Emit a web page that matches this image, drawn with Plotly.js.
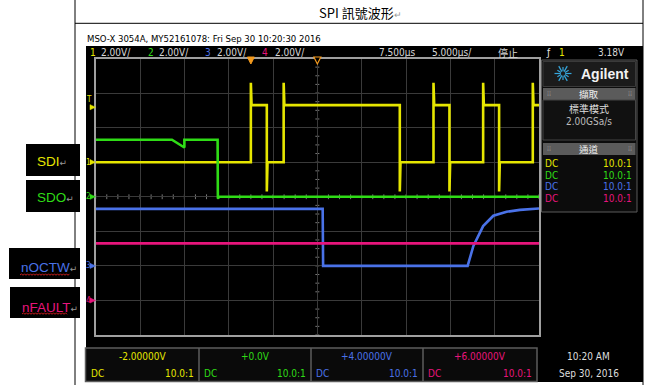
<!DOCTYPE html>
<html><head><meta charset="utf-8">
<script src="https://cdn.plot.ly/plotly-3.0.1.min.js"></script>
<style>html,body{margin:0;padding:0;background:#fff;}#chart{width:645px;height:385px;}</style>
</head><body><div id="chart"></div>
<script>
// ---------------- data ----------------
const channelNames = ['SDI', 'SDO', 'nOCTW', 'nFAULT'];
const channelColors = ['#e6e600', '#2fdc16', '#4a72e8', '#e8157c'];
const voltsPerDiv = [2, 2, 2, 2];
const channelOffsets = [-2.0, 0.0, 4.0, 6.0];
const offsetLabels = ['-2.00000V', '+0.0V', '+4.00000V', '+6.00000V'];
const probeLabels = ['10.0:1', '10.0:1', '10.0:1', '10.0:1'];
const timePerDiv = 5;      // µs / div
const timeDelay = 7.5;     // µs
const triggerLevel = 3.18; // V

// SDI (ch1)
const sdiTime = [-17.5, 0.0, 0.0, 0.08, 1.8, 1.8, 1.88, 3.7, 3.7, 3.78, 16.8, 16.8, 16.88, 20.6, 20.6, 20.68, 22.4, 22.4, 22.48, 26.2, 26.2, 26.28, 28.0, 28.0, 28.08, 31.8, 31.8, 31.88, 32.5];
const sdiVolt = [0.0, 0.0, 4.6, 3.3, 3.3, -1.7, 0.0, 0.0, 4.6, 3.3, 3.3, -1.7, 0.0, 0.0, 4.6, 3.3, 3.3, -1.7, 0.0, 0.0, 4.6, 3.3, 3.3, -1.7, 0.0, 0.0, 4.6, 3.3, 3.3];
// SDO (ch2)
const sdoTime = [-17.5, -8.9, -7.5, -7.5, -3.75, -3.72, -3.55, 32.5];
const sdoVolt = [3.3, 3.3, 2.85, 3.3, 3.3, -0.1, 0.0, 0.0];
// nOCTW (ch3)
const octwTime = [-17.5, 8.1, 8.15, 24.45, 25.1, 26.2, 27.35, 28.85, 30.35, 32.25, 32.5];
const octwVolt = [3.3, 3.3, 0.0, 0.0, 1.15, 2.3, 2.9, 3.13, 3.24, 3.32, 3.32];
// nFAULT (ch4)
const faultTime = [-17.5, 32.5];
const faultVolt = [3.3, 3.3];

// ---------------- page geometry ----------------
const W = 645, H = 385;
const X = p => p / W;
const Y = p => 1 - p / H;
const gL = 95.7, gR = 539, gT = 58.5, gB = 335;
const divPxY = (gB - gT) / 8, divPxX = (gR - gL) / 10;
const NARROW = "'Liberation Sans Narrow','DejaVu Sans Condensed','Liberation Sans','Noto Sans CJK TC',sans-serif";
const CJK = "'Noto Sans CJK TC','Liberation Sans',sans-serif";

const shapes = [], annotations = [];
function rect(x0, y0, x1, y1, fill, line, lw, layer) {
  shapes.push({type: 'rect', xref: 'paper', yref: 'paper', x0: X(x0), x1: X(x1), y0: Y(y1), y1: Y(y0),
    fillcolor: fill, line: {color: line || 'rgba(0,0,0,0)', width: lw || 0}, layer: layer || 'above'});
}
function seg(x0, y0, x1, y1, color, w, layer) {
  shapes.push({type: 'line', xref: 'paper', yref: 'paper', x0: X(x0), x1: X(x1), y0: Y(y0), y1: Y(y1),
    line: {color: color, width: w || 1}, layer: layer || 'above'});
}
function txt(s, x, y, size, color, anchor, family) {
  annotations.push({xref: 'paper', yref: 'paper', x: X(x), y: Y(y), text: s, showarrow: false,
    xanchor: anchor || 'left', yanchor: 'middle', borderpad: 0,
    font: {family: family || NARROW, size: size, color: color}});
}

// Word table lines
seg(75, 0, 75, 385, '#000', 1);
seg(643, 0, 643, 385, '#000', 1);
seg(75, 23.3, 643, 23.3, '#000', 1);
txt('SPI 訊號波形<span style="color:#999;font-size:9px">↵</span>', 361, 12, 13, '#000', 'center', CJK);

// scope screen background
rect(86, 46, 643, 382, '#000', null, 0, 'below');
txt('MSO-X 3054A, MY52161078: Fri Sep 30 10:20:30 2016', 86, 38, 9.5, '#000', 'left');

// status bar
const sbY = 52;
const chX = [89, 147, 204, 261], vdX = [100, 158, 216, 274];
for (let i = 0; i < 4; i++) {
  txt(String(i + 1), chX[i], sbY, 10, channelColors[i]);
  txt(voltsPerDiv[i].toFixed(2) + 'V/', vdX[i], sbY, 10, '#d8d8d8');
}
txt(timeDelay.toFixed(3) + 'µs', 378, sbY, 10, '#d8d8d8');
txt(timePerDiv.toFixed(3) + 'µs/', 431, sbY, 10, '#d8d8d8');
txt('停止', 497, sbY, 10, '#d8d8d8', 'left', CJK);
txt('ƒ', 545, sbY, 10, '#e8e8e8');
txt('1', 558, sbY, 10, channelColors[0]);
txt(triggerLevel.toFixed(2) + 'V', 626, sbY, 10, '#d8d8d8', 'right');

// center-line minor ticks
for (let k = -20; k <= 20; k++) {
  const t = timeDelay + k * timePerDiv / 4;
  shapes.push({type: 'line', xref: 'x', yref: 'y', x0: t, x1: t, y0: -0.07, y1: 0.07, line: {color: '#777', width: 1}, layer: 'below'});
}
for (let k = -16; k <= 16; k++) {
  const d = k / 4, dx = 2 / divPxX * timePerDiv;
  shapes.push({type: 'line', xref: 'x', yref: 'y', x0: timeDelay - dx, x1: timeDelay + dx, y0: d, y1: d, line: {color: '#777', width: 1}, layer: 'below'});
}

// trigger markers on top
{
  const w = 3.5 / divPxX * timePerDiv;
  shapes.push({type: 'path', xref: 'x', yref: 'paper', path: `M ${-w},${Y(57)} L ${w},${Y(57)} L 0,${Y(64)} Z`, fillcolor: '#f39a1e', line: {color: '#f39a1e', width: 1}});
  shapes.push({type: 'path', xref: 'x', yref: 'paper', path: `M ${timeDelay - w},${Y(57)} L ${timeDelay + w},${Y(57)} L ${timeDelay},${Y(64)} Z`, fillcolor: '#000', line: {color: '#f39a1e', width: 1.2}});
}

// channel ground markers & trigger level marker
for (let i = 0; i < 4; i++) {
  const ya = 'y' + (i + 2);
  const h = 2.6 / divPxY * voltsPerDiv[i];
  shapes.push({type: 'path', xref: 'paper', yref: ya, path: `M ${X(90)},${h} L ${X(95.5)},0 L ${X(90)},${-h} Z`, fillcolor: channelColors[i], line: {color: channelColors[i], width: 0.5}});
  annotations.push({xref: 'paper', yref: ya, x: X(88.5), y: 0, text: String(i + 1), showarrow: false, xanchor: 'center', yanchor: 'middle', font: {family: NARROW, size: 8, color: channelColors[i]}});
}
{
  const h = 2.6 / divPxY * voltsPerDiv[0];
  shapes.push({type: 'path', xref: 'paper', yref: 'y2', path: `M ${X(90)},${triggerLevel + h} L ${X(95.5)},${triggerLevel} L ${X(90)},${triggerLevel - h} Z`, fillcolor: channelColors[0], line: {color: channelColors[0], width: 0.5}});
  txt('T', 89, 100, 8, channelColors[0], 'center');
}

// left label boxes (Word document)
const labelBoxes = [[26, 144, 80, 176], [26, 180, 80, 212], [9, 248, 80, 279], [10, 287, 80, 318]];
const labelTextX = [36, 36, 20, 21], labelTextY = [162, 197.5, 267.5, 307];
for (let i = 0; i < 4; i++) {
  const b = labelBoxes[i];
  rect(b[0], b[1], b[2], b[3], '#000', null, 0);
  txt(channelNames[i] + '<span style="color:#999;font-size:9px">↵</span>', labelTextX[i], labelTextY[i], 13.5,
      channelColors[i], 'left', "'Liberation Sans','DejaVu Sans',sans-serif");
}
// red spell-check squiggles
function squiggle(x0, x1, y) {
  let p = `M ${X(x0)},${Y(y)}`, up = true;
  for (let x = x0 + 1.5; x <= x1; x += 1.5) { p += ` L ${X(x)},${Y(up ? y - 1.2 : y + 0.3)}`; up = !up; }
  shapes.push({type: 'path', xref: 'paper', yref: 'paper', path: p, line: {color: '#e02020', width: 0.9}});
}
squiggle(20, 70, 275);
squiggle(22, 68, 314);

// right panel
rect(541.5, 60, 637, 212, '#0c0c0c', '#5a5a5a', 1);
rect(543, 61.5, 635.5, 86.5, '#1b1b1b', '#3a3a3a', 1);
for (let k = 0; k < 12; k++) {
  const a = k * Math.PI / 6, r0 = 2.2, r1 = (k % 2 ? 6.5 : 8.5);
  seg(563 + r0 * Math.cos(a), 73.5 + r0 * Math.sin(a), 563 + r1 * Math.cos(a), 73.5 + r1 * Math.sin(a), '#35a6dc', 1.2);
}
txt('<b>Agilent</b>', 580, 73.5, 14, '#f2f2f2', 'left', "'Liberation Sans','DejaVu Sans',sans-serif");
rect(543, 88, 635.5, 100, '#5b5b5b', null, 0);
txt('擷取', 589, 94, 9.5, '#eeeeee', 'center', CJK);
txt('⁞⁞', 546, 94, 7, '#999', 'left'); txt('⁞⁞', 633, 94, 7, '#999', 'right');
rect(543, 100, 635.5, 140, '#111', '#444', 1);
txt('標準模式', 589, 108.5, 10, '#dddddd', 'center', CJK);
txt('2.00GSa/s', 589, 121.5, 10, '#bbbbbb', 'center');
rect(543, 143, 635.5, 155, '#5b5b5b', null, 0);
txt('通道', 589, 149, 9.5, '#eeeeee', 'center', CJK);
txt('⁞⁞', 546, 149, 7, '#999', 'left'); txt('⁞⁞', 633, 149, 7, '#999', 'right');
const rowY = [163.5, 175.2, 186.8, 198.4];
for (let i = 0; i < 4; i++) {
  txt('DC', 544, rowY[i], 10, channelColors[i], 'left');
  txt(probeLabels[i], 633, rowY[i], 10, channelColors[i], 'right');
}

// bottom boxes
rect(85.5, 348, 537, 381.5, '#0a0a0a', '#5c5c5c', 1.5);
const cellEdges = [85.5, 199, 311, 423, 537];
for (let i = 0; i < 4; i++) {
  if (i > 0) seg(cellEdges[i], 348, cellEdges[i], 381.5, '#5c5c5c', 1.5);
  const c = (cellEdges[i] + cellEdges[i + 1]) / 2;
  txt(offsetLabels[i], c, 356, 10, channelColors[i], 'center');
  txt('DC', cellEdges[i] + 4, 373.5, 10, channelColors[i], 'left');
  txt(probeLabels[i], cellEdges[i + 1] - 4, 373.5, 10, channelColors[i], 'right');
}
txt('10:20 AM', 588, 356, 10, '#dddddd', 'center');
txt('Sep 30, 2016', 589, 373, 10, '#dddddd', 'center');

// ---------------- traces ----------------
const times = [sdiTime, sdoTime, octwTime, faultTime];
const volts = [sdiVolt, sdoVolt, octwVolt, faultVolt];
const traces = [];
for (let i = 0; i < 4; i++) {
  traces.push({x: times[i], y: volts[i], yaxis: 'y' + (i + 2), type: 'scatter', mode: 'lines', name: channelNames[i],
    line: {color: channelColors[i], width: 2.6}, hoverinfo: 'skip'});
}

const xRange = [timeDelay - 5 * timePerDiv, timeDelay + 5 * timePerDiv];
const layout = {
  width: W, height: H, margin: {l: 0, r: 0, t: 0, b: 0, pad: 0},
  paper_bgcolor: '#ffffff', plot_bgcolor: '#000000', showlegend: false,
  xaxis: {domain: [X(gL), X(gR)], range: xRange, tick0: xRange[0], dtick: timePerDiv, showgrid: true, gridcolor: '#3a3a3a', gridwidth: 1,
    showline: true, mirror: true, linecolor: '#a0a0a0', linewidth: 1.5, ticks: '', showticklabels: false, zeroline: false, fixedrange: true},
  yaxis: {domain: [Y(gB), Y(gT)], range: [-4, 4], dtick: 1, showgrid: true, gridcolor: '#3a3a3a', gridwidth: 1,
    showline: true, mirror: true, linecolor: '#a0a0a0', linewidth: 1.5, ticks: '', showticklabels: false, zeroline: false, fixedrange: true},
  shapes: shapes, annotations: annotations
};
for (let i = 0; i < 4; i++) {
  layout['yaxis' + (i + 2)] = {overlaying: 'y', range: [channelOffsets[i] - 4 * voltsPerDiv[i], channelOffsets[i] + 4 * voltsPerDiv[i]],
    visible: false, showgrid: false, zeroline: false, fixedrange: true};
}
Plotly.newPlot('chart', traces, layout, {staticPlot: true, displayModeBar: false});
</script>
</body></html>
